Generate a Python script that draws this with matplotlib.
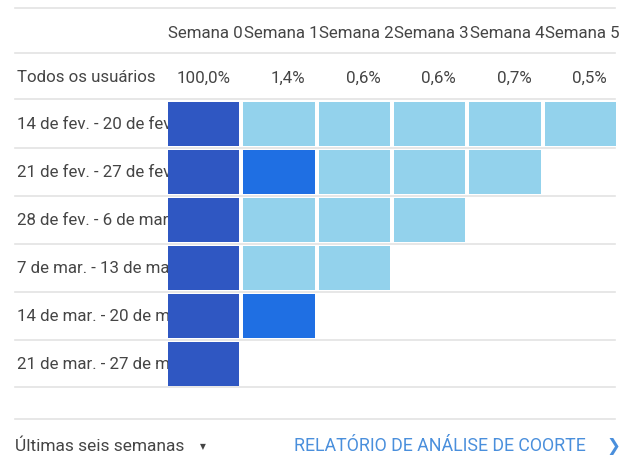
import numpy as np
import matplotlib.pyplot as plt
from matplotlib.patches import Rectangle
from matplotlib.colors import ListedColormap, BoundaryNorm

plt.rcParams['font.family'] = ['Roboto', 'DejaVu Sans']

# Data
weeks = ["Semana 0", "Semana 1", "Semana 2", "Semana 3", "Semana 4", "Semana 5"]
all_users = ["100,0%", "1,4%", "0,6%", "0,6%", "0,7%", "0,5%"]
cohorts = ["14 de fev. - 20 de fev.", "21 de fev. - 27 de fev.",
           "28 de fev. - 6 de mar.", "7 de mar. - 13 de mar.",
           "14 de mar. - 20 de mar.", "21 de mar. - 27 de mar."]
# retention per cohort (%), estimated from the cell shading
retention = [
    [100, 0.5, 0.6, 0.5, 0.6, 0.5],
    [100, 2.2, 0.6, 0.6, 0.7],
    [100, 0.6, 0.6, 0.6],
    [100, 0.6, 0.6],
    [100, 2.5],
    [100],
]

cmap = ListedColormap(["#93d2ec", "#1f6fe3", "#2f57c2"])
norm = BoundaryNorm([0, 1, 50, 101], cmap.N)

fig = plt.figure(figsize=(6.22, 4.56), dpi=100)
ax = fig.add_axes([0, 0, 1, 1])
ax.set_xlim(0, 622)
ax.set_ylim(456, 0)
ax.axis('off')

x0, cw = 168, 75.3
y0, rh = 101, 48
gap = 4
fs = 12.2
txt = '#454545'
line = '#e3e3e3'

# horizontal rules
for y in [9, 54, 100] + [y0 + rh * (i + 1) - 0.5 for i in range(len(cohorts))] + [420]:
    ax.plot([15, 615], [y, y], color=line, lw=1.2, zorder=1)

# header
for j, w in enumerate(weeks):
    ax.text(x0 + cw * j + cw / 2, 33, w, ha='center', va='center',
            fontsize=fs, color=txt)
ax.text(17, 78, "Todos os usuários", ha='left', va='center', fontsize=fs, color=txt)
for j, v in enumerate(all_users):
    ax.text(x0 + cw * (j + 1) - 13, 78, v, ha='right', va='center',
            fontsize=fs, color=txt)

# labels are cut off where the first column starts
clip = Rectangle((0, 0), x0, 456, transform=ax.transData)

# cohort rows
for i, (label, vals) in enumerate(zip(cohorts, retention)):
    yc = y0 + rh * i + rh / 2
    t = ax.text(17, yc, label, ha='left', va='center', fontsize=fs, color=txt, zorder=2)
    t.set_clip_path(clip)
    xs = x0 + cw * np.arange(len(vals))
    ax.bar(xs, rh - gap, width=cw - gap, bottom=y0 + rh * i + 2, align='edge',
           color=cmap(norm(vals)), zorder=3)

# footer
ax.text(15, 446, "Últimas seis semanas", ha='left', va='center',
        fontsize=12.5, color=txt)
ax.text(203, 447, "▼", ha='center', va='center', fontsize=5.5, color=txt,
        family=['DejaVu Sans'])
ax.text(294, 446, "RELATÓRIO DE ANÁLISE DE COORTE", ha='left', va='center',
        fontsize=12.8, color='#4a8fdc')
ax.text(613, 446, "❯", ha='center', va='center', fontsize=12,
        color='#4a8fdc', family=['DejaVu Sans'])

fig.savefig("out.png", dpi=100)
